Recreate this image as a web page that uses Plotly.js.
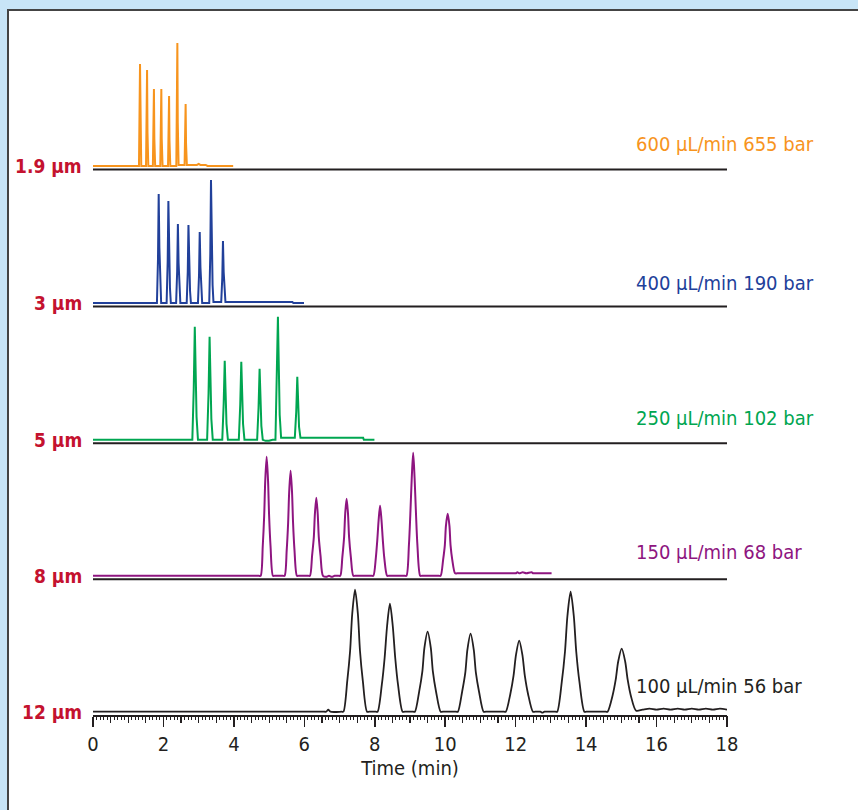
<!DOCTYPE html>
<html>
<head>
<meta charset="utf-8">
<script src="https://cdn.plot.ly/plotly-3.0.1.min.js"></script>
<style>
  html, body { margin: 0; padding: 0; }
  body { width: 858px; height: 810px; background: #c8e5f7; position: relative; overflow: hidden; }
  #frame { position: absolute; left: 7px; top: 9px; width: 900px; height: 900px; background: #ffffff;
           border-left: 2px solid #444; border-top: 2px solid #444; }
  #chart { position: absolute; left: 0; top: 0; width: 858px; height: 810px; }
</style>
</head>
<body>
<div id="frame"></div>
<div id="chart"></div>
<script>
// ---- Data (time in min, signal in arbitrary units) ----
const particleLabels = ["12 µm", "8 µm", "5 µm", "3 µm", "1.9 µm"];
const conditionLabels = ["100 µL/min 56 bar", "150 µL/min 68 bar", "250 µL/min 102 bar",
                         "400 µL/min 190 bar", "600 µL/min 655 bar"];
const traceColors = ["#231f20", "#8e1580", "#00a651", "#21409a", "#f7941d"];

const time12 = [0, 6.56, 6.62, 6.68, 6.74,
  7.06, 7.11, 7.22, 7.30, 7.36, 7.44, 7.52, 7.58, 7.66, 7.78, 7.84,
  8.03, 8.08, 8.20, 8.28, 8.35, 8.43, 8.51, 8.58, 8.66, 8.79, 8.85,
  9.09, 9.14, 9.26, 9.35, 9.41, 9.50, 9.59, 9.65, 9.74, 9.87, 9.93,
  10.31, 10.36, 10.48, 10.57, 10.63, 10.72, 10.81, 10.87, 10.96, 11.09, 11.15,
  11.67, 11.72, 11.85, 11.94, 12.01, 12.10, 12.19, 12.26, 12.35, 12.49, 12.55,
  12.70, 12.76, 12.82,
  13.13, 13.18, 13.31, 13.40, 13.47, 13.56, 13.65, 13.72, 13.81, 13.95, 14.01,
  14.56, 14.61, 14.75, 14.84, 14.91, 15.01, 15.11, 15.18, 15.27, 15.42,
  15.6, 15.8, 16.0, 16.2, 16.4, 16.6, 16.8, 17.0, 17.2, 17.4, 17.6, 17.8, 18.0];
const signal12 = [0, 0, 0, 2, 0,
  0, 0, 31, 61, 98, 122, 98, 61, 31, 0, 0,
  0, 0, 27, 54, 86, 108, 86, 54, 27, 0, 0,
  0, 0, 20, 40, 64, 80, 64, 40, 20, 0, 0,
  0, 0, 20, 39, 62, 78, 62, 39, 20, 0, 0,
  0, 0, 18, 36, 57, 71, 57, 36, 18, 0, 0,
  0, -1, 0,
  0, 0, 30, 60, 96, 120, 96, 60, 30, 0, 0,
  0, 0, 16, 32, 50, 63, 50, 32, 16, 1,
  2, 3, 2, 3, 2, 3, 2, 3, 2, 3, 2, 3, 2];

const time8 = [0, 4.71, 4.76, 4.82, 4.86, 4.89, 4.93, 4.97, 5.00, 5.04, 5.11, 5.16,
  5.39, 5.44, 5.50, 5.54, 5.57, 5.61, 5.65, 5.68, 5.72, 5.79, 5.84,
  6.11, 6.16, 6.22, 6.27, 6.30, 6.34, 6.38, 6.41, 6.46, 6.53,
  6.62, 6.70, 6.78, 6.86,
  6.97, 7.02, 7.08, 7.13, 7.16, 7.20, 7.24, 7.27, 7.32, 7.39, 7.44,
  7.91, 7.96, 8.03, 8.07, 8.11, 8.15, 8.19, 8.23, 8.27, 8.35, 8.40,
  8.85, 8.90, 8.97, 9.01, 9.05, 9.09, 9.13, 9.17, 9.21, 9.29, 9.34,
  9.82, 9.87, 9.94, 9.99, 10.02, 10.07, 10.12, 10.15, 10.20, 10.28, 10.34,
  11.95, 12.0, 12.05, 12.1, 12.2, 12.3, 12.45, 12.5, 12.56, 13.02];
const signal8 = [0, 0, 0, 30, 60, 95, 119, 95, 60, 30, 0, 0,
  0, 0, 26, 53, 84, 105, 84, 53, 26, 0, 0,
  0, 0, 20, 39, 62, 78, 62, 39, 20, 0,
  -1, 0, -1, 0,
  0, 0, 19, 39, 62, 77, 62, 39, 19, 0, 0,
  0, 0, 18, 35, 56, 70, 56, 35, 18, 0, 0,
  0, 0, 31, 62, 98, 123, 98, 62, 31, 0, 0,
  0, 0, 16, 31, 50, 62, 50, 31, 16, 2.5, 2.5,
  2.5, 2.5, 3.5, 2.5, 3.5, 2.5, 3.5, 2.5, 2.5, 2.5];

const time5 = [0, 2.82, 2.86, 2.89, 2.915, 2.94, 2.98,
  3.24, 3.28, 3.31, 3.335, 3.36, 3.40,
  3.67, 3.71, 3.74, 3.765, 3.79, 3.83,
  4.14, 4.18, 4.21, 4.235, 4.26, 4.30,
  4.66, 4.70, 4.73, 4.755, 4.78, 4.82,
  4.90, 5.00, 5.10,
  5.18, 5.22, 5.25, 5.275, 5.30, 5.34,
  5.73, 5.77, 5.80, 5.825, 5.85, 5.89,
  7.67, 7.69, 7.99];
const signal5 = [0, 0, 51, 113, 68, 23, 0,
  0, 46, 103, 62, 21, 0,
  0, 36, 79, 47, 16, 0,
  0, 35, 78, 47, 16, 0,
  0, 32, 71, 43, 14, 0,
  -1, -1, 0,
  0, 55, 123, 74, 25, 2,
  2, 28, 63, 38, 13, 2,
  2, 0, 0];

const time3 = [0, 1.815, 1.845, 1.865, 1.885, 1.91, 1.935,
  2.09, 2.12, 2.14, 2.16, 2.185, 2.21,
  2.36, 2.39, 2.41, 2.43, 2.455, 2.48,
  2.66, 2.69, 2.71, 2.73, 2.755, 2.78,
  2.98, 3.01, 3.03, 3.05, 3.075, 3.10,
  3.30, 3.33, 3.35, 3.37, 3.395, 3.42,
  3.64, 3.67, 3.69, 3.71, 3.735, 3.76,
  5.66, 5.69, 5.99];
const signal3 = [0, 0, 44, 109, 55, 16, 0,
  0, 41, 102, 51, 15, 0,
  0, 32, 79, 40, 12, 0,
  0, 31, 78, 39, 12, 0,
  0, 28, 71, 36, 11, 0,
  0, 49, 123, 62, 18, 1,
  1, 25, 62, 31, 9, 1,
  1, 0, 0];

const time19 = [0, 1.305, 1.335, 1.347, 1.37,
  1.505, 1.535, 1.547, 1.57,
  1.70, 1.73, 1.742, 1.765,
  1.91, 1.94, 1.952, 1.975,
  2.13, 2.16, 2.172, 2.195,
  2.365, 2.395, 2.407, 2.43,
  2.60, 2.63, 2.642, 2.665,
  2.95, 3.0, 3.05, 3.2, 3.25, 3.98];
const signal19 = [0, 0, 102, 36, 0,
  0, 96, 34, 0,
  0, 77, 27, 0,
  0, 77, 27, 0,
  0, 70, 25, 0,
  0, 123, 43, 1,
  1, 62, 22, 1,
  1, 2, 1, 1, 0, 0];

const xTickVals = [0, 2, 4, 6, 8, 10, 12, 14, 16, 18];
const xTitle = "Time (min)";

// ---- Build figure ----
const times = [time12, time8, time5, time3, time19];
const signals = [signal12, signal8, signal5, signal3, signal19];
const yNames = ["y", "y2", "y3", "y4", "y5"];
const yKeys = ["yaxis", "yaxis2", "yaxis3", "yaxis4", "yaxis5"];
const domainBottoms = [0, 0.1981, 0.3966, 0.5964, 0.7964];
const domainH = 0.1985;
const labelOffsets = [26, 24, 22, 20, 22];
const FONT = "'DejaVu Sans Condensed', 'Liberation Sans Narrow', sans-serif";

const traces = times.map((t, i) => ({
  type: "scatter", mode: "lines", x: t, y: signals[i],
  xaxis: "x", yaxis: yNames[i],
  line: i < 2 ? { color: traceColors[i], width: i === 0 ? 1.8 : 2, shape: "spline", smoothing: 0.8 }
              : { color: traceColors[i], width: 2 },
  hoverinfo: "skip", showlegend: false
}));
// helper trace for fine minor ticks
traces.push({ type: "scatter", mode: "lines", x: [], y: [], xaxis: "x2", yaxis: "y", showlegend: false, hoverinfo: "skip" });

const layout = {
  width: 858, height: 810,
  margin: { l: 93, r: 131, t: 30, b: 95 },
  paper_bgcolor: "rgba(0,0,0,0)", plot_bgcolor: "rgba(0,0,0,0)",
  font: { family: FONT, size: 20, color: "#231f20" },
  showlegend: false,
  xaxis: {
    range: [0, 18], tickmode: "array", tickvals: xTickVals,
    ticks: "outside", ticklen: 10, tickwidth: 1.5, tickcolor: "#231f20",
    minor: { dtick: 0.5, tick0: 0, ticks: "outside", ticklen: 6, tickwidth: 1.2, tickcolor: "#231f20", showgrid: false },
    showline: true, linecolor: "#231f20", linewidth: 2,
    showgrid: false, zeroline: false,
    tickfont: { family: FONT, size: 20, color: "#231f20" },
    title: { text: xTitle, font: { family: FONT, size: 20, color: "#231f20" }, standoff: 4 },
    anchor: "y", fixedrange: true
  },
  xaxis2: {
    range: [0, 18], overlaying: "x", anchor: "y", side: "bottom",
    dtick: 0.1, tick0: 0, ticks: "outside", ticklen: 4, tickwidth: 1, tickcolor: "#231f20",
    showticklabels: false, showline: false, showgrid: false, zeroline: false, fixedrange: true
  },
  shapes: [],
  annotations: []
};

yKeys.forEach((k, i) => {
  layout[k] = {
    domain: [domainBottoms[i], domainBottoms[i] + domainH],
    range: i === 0 ? [-3.3, 132.7] : [-3.5, 132.5],
    anchor: "x", showgrid: false, zeroline: false, showline: false,
    showticklabels: false, ticks: "", fixedrange: true
  };
  if (i > 0) {
    layout.shapes.push({
      type: "line", xref: "x", x0: 0, x1: 18,
      yref: yNames[i] + " domain", y0: 0, y1: 0,
      line: { color: "#231f20", width: 2 }
    });
  }
  layout.annotations.push({
    xref: "paper", x: 0, xanchor: "right", xshift: -9,
    yref: yNames[i], y: 0, yanchor: "middle", showarrow: false,
    text: "<b>" + particleLabels[i] + "</b>",
    font: { family: FONT, size: 19, color: "#c4122f" }
  });
  layout.annotations.push({
    xref: "paper", x: 0.853, xanchor: "left",
    yref: yNames[i], y: labelOffsets[i], yanchor: "middle", showarrow: false,
    text: conditionLabels[i],
    font: { family: FONT, size: 20, color: traceColors[i] }
  });
});

Plotly.newPlot("chart", traces, layout, { displayModeBar: false, staticPlot: true });
</script>
</body>
</html>
